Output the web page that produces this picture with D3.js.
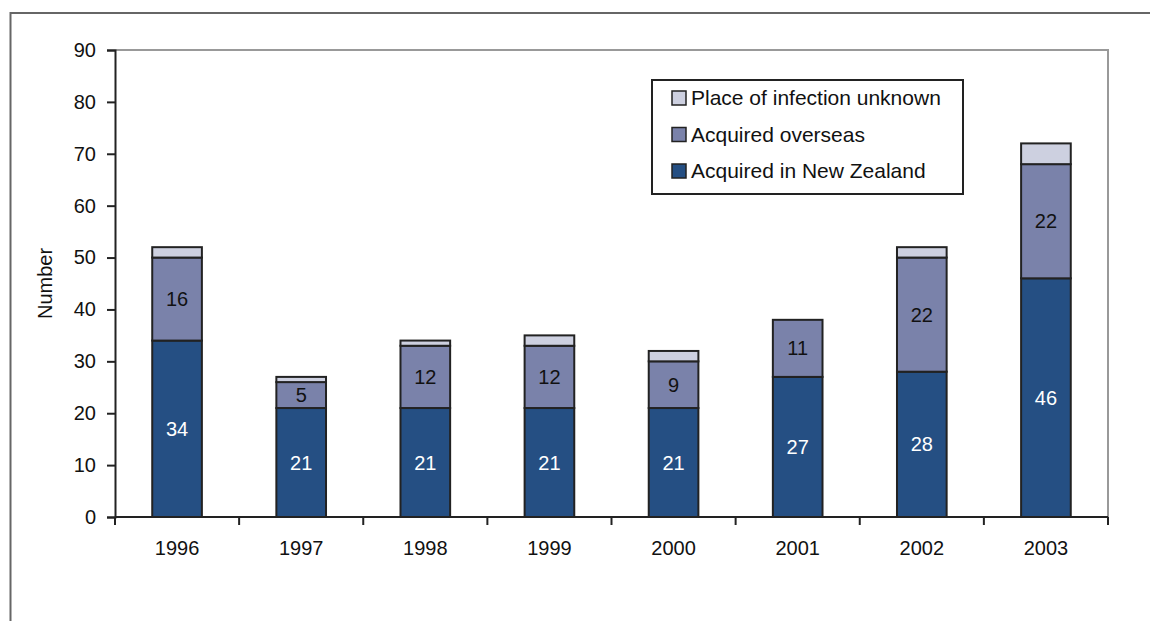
<!DOCTYPE html>
<html lang="en">
<head>
<meta charset="UTF-8">
<title>Cases by place of infection</title>
<script src="https://d3js.org/d3.v7.min.js"></script>
<style>
  body { margin: 0; background: #fff; }
  text { font-family: "Liberation Sans", Arial, sans-serif; }
</style>
</head>
<body>
<script>
const years = ["1996", "1997", "1998", "1999", "2000", "2001", "2002", "2003"];
const newZealand = [34, 21, 21, 21, 21, 27, 28, 46];
const overseas = [16, 5, 12, 12, 9, 11, 22, 22];
const unknown = [2, 1, 1, 2, 2, 0, 2, 4];
const seriesNames = ["Acquired in New Zealand", "Acquired overseas", "Place of infection unknown"];
const yTicks = [0, 10, 20, 30, 40, 50, 60, 70, 80, 90];

const width = 1150, height = 621;
const marginLeft = 115, marginRight = 42, marginTop = 50, marginBottom = 104;
const colors = ["#254f83", "#7a82aa", "#cdd0e0"];

const rows = years.map((y, i) => ({ year: y, nz: newZealand[i], ov: overseas[i], un: unknown[i] }));
const stack = d3.stack().keys(["nz", "ov", "un"])(rows);

const svg = d3.select("body").append("svg")
    .attr("width", width)
    .attr("height", height);

// outer frame
svg.append("rect")
    .attr("x", 10.5).attr("y", 13)
    .attr("width", width + 20).attr("height", height + 20)
    .attr("fill", "none")
    .attr("stroke", "#666")
    .attr("stroke-width", 2);

const x = d3.scaleBand()
    .domain(years)
    .range([marginLeft, width - marginRight])
    .paddingInner(0.6)
    .paddingOuter(0.3);

const xEdge = d3.scaleLinear()
    .domain([0, years.length])
    .range([marginLeft, width - marginRight]);

const y = d3.scaleLinear()
    .domain([0, 90])
    .range([height - marginBottom, marginTop]);

// plot area top/right border
svg.append("path")
    .attr("d", `M${marginLeft},${y(90)}H${width - marginRight}V${y(0)}`)
    .attr("fill", "none")
    .attr("stroke", "#999")
    .attr("stroke-width", 2);

// bars
svg.append("g")
    .selectAll("g").data(stack).join("g")
    .attr("fill", (d, i) => colors[i])
    .selectAll("rect").data(d => d.filter(s => s[1] > s[0])).join("rect")
    .attr("x", d => x(d.data.year))
    .attr("y", d => y(d[1]))
    .attr("width", x.bandwidth())
    .attr("height", d => y(d[0]) - y(d[1]))
    .attr("stroke", "#222")
    .attr("stroke-width", 2);

// value labels
svg.append("g")
    .selectAll("text").data(rows).join("text")
    .attr("x", d => x(d.year) + x.bandwidth() / 2)
    .attr("y", d => y(d.nz / 2))
    .attr("dy", "0.35em")
    .attr("text-anchor", "middle")
    .attr("font-size", 20)
    .attr("fill", "#fff")
    .text(d => d.nz);

svg.append("g")
    .selectAll("text").data(rows).join("text")
    .attr("x", d => x(d.year) + x.bandwidth() / 2)
    .attr("y", d => y(d.nz + d.ov / 2))
    .attr("dy", "0.35em")
    .attr("text-anchor", "middle")
    .attr("font-size", 20)
    .attr("fill", "#111")
    .text(d => d.ov);

// y axis
const yAxis = svg.append("g")
    .attr("transform", `translate(${marginLeft},0)`)
    .call(d3.axisLeft(y).tickValues(yTicks).tickSize(8).tickPadding(11));
yAxis.selectAll("text").attr("font-size", 20).attr("fill", "#111").style("font-family", "Liberation Sans, Arial, sans-serif");
yAxis.selectAll("line,path").attr("stroke", "#222").attr("stroke-width", 2);

// x axis
const xAxis = svg.append("g")
    .attr("transform", `translate(0,${y(0)})`);
xAxis.append("line")
    .attr("x1", marginLeft).attr("x2", width - marginRight)
    .attr("stroke", "#222").attr("stroke-width", 2);
xAxis.selectAll("line.tick").data(d3.range(years.length + 1)).join("line")
    .attr("class", "tick")
    .attr("x1", d => xEdge(d)).attr("x2", d => xEdge(d))
    .attr("y1", 0).attr("y2", 8)
    .attr("stroke", "#222").attr("stroke-width", 2);
xAxis.selectAll("text").data(years).join("text")
    .attr("x", d => x(d) + x.bandwidth() / 2)
    .attr("y", 38)
    .attr("text-anchor", "middle")
    .attr("font-size", 20)
    .attr("fill", "#111")
    .text(d => d);

// y label
svg.append("text")
    .attr("transform", `translate(52,${(y(0) + y(90)) / 2}) rotate(-90)`)
    .attr("text-anchor", "middle")
    .attr("font-size", 20)
    .attr("fill", "#111")
    .text("Number");

// legend
const legend = svg.append("g").attr("transform", "translate(652,80)");
legend.append("rect")
    .attr("width", 311).attr("height", 114)
    .attr("fill", "#fff")
    .attr("stroke", "#222")
    .attr("stroke-width", 2);
const legendOrder = [2, 1, 0];
const item = legend.selectAll("g.item").data(legendOrder).join("g")
    .attr("class", "item")
    .attr("transform", (d, i) => `translate(20,${11 + i * 36.5})`);
item.append("rect")
    .attr("width", 14).attr("height", 14)
    .attr("fill", d => colors[d])
    .attr("stroke", "#222")
    .attr("stroke-width", 1.5);
item.append("text")
    .attr("x", 19).attr("y", 7)
    .attr("dy", "0.35em")
    .attr("font-size", 21)
    .attr("fill", "#111")
    .text(d => seriesNames[d]);
</script>
</body>
</html>
